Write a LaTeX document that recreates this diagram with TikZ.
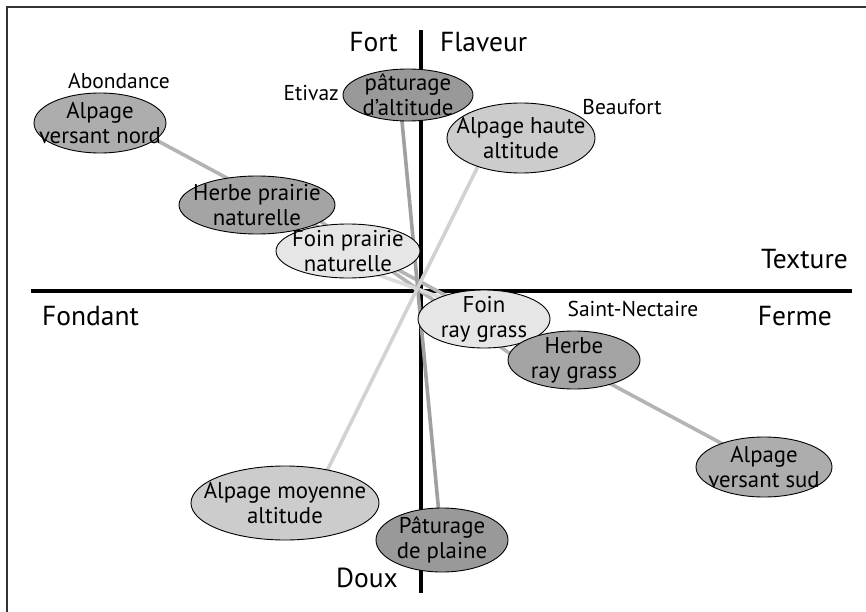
\documentclass[tikz,border=0pt]{standalone}
\usepackage{fontspec}
\setmainfont{PT Sans}
\usetikzlibrary{shapes.geometric}
\definecolor{fillpat}{HTML}{999999}
\definecolor{fillherbe}{HTML}{A4A4A4}
\definecolor{fillalp}{HTML}{ADADAD}
\definecolor{fillalt}{HTML}{CCCCCC}
\definecolor{fillfoin}{HTML}{E6E6E6}
\definecolor{linepat}{HTML}{A0A0A0}
\definecolor{linealp}{HTML}{B4B4B4}
\definecolor{lineherbe}{HTML}{B4B4B4}
\definecolor{linealt}{HTML}{D2D2D2}
\definecolor{linefoin}{HTML}{DCDCDC}
\tikzset{
  forage/.style={ellipse, draw=black, line width=0.9pt, inner sep=0pt},
  foragetext/.style={align=center, inner sep=0pt,
    font=\fontsize{22.8}{25}\selectfont},
  axislabel/.style={font=\fontsize{27.5}{30}\selectfont, inner sep=0pt},
  cheese/.style={font=\fontsize{21.5}{24}\selectfont, inner sep=0pt},
  axisline/.style={line width=3.4pt, black},
  pairline/.style={line width=3.6pt},
}
\begin{document}
\begin{tikzpicture}[x=1pt, y=-1pt]
\useasboundingbox (0,0) rectangle (866,612);
\clip (0,0) rectangle (866,612);

% outer frame
\draw[line width=2pt, black!80] (7,7) rectangle (880,630);

% axes
\coordinate (xL) at (31,291);
\coordinate (xR) at (852,291);
\coordinate (yT) at (421,30);
\coordinate (yB) at (421,593);
\draw[axisline] (xL) -- (xR);
\draw[axisline] (yT) -- (yB);

% end points of the pair lines
\coordinate (nordEnd) at (130,126);
\coordinate (sudEnd)  at (745,456);
\coordinate (herbePEnd) at (290,200);
\coordinate (herbeREnd) at (545,378);
\coordinate (foinPEnd) at (348,264);
\coordinate (foinREnd) at (484,313);
\coordinate (patAEnd) at (400,100);
\coordinate (patPEnd) at (440,525);
\coordinate (hauteEnd) at (490,142);
\coordinate (moyEnd)  at (313,499);

\draw[pairline, linealp]   (nordEnd) -- (sudEnd);
\draw[pairline, lineherbe] (herbePEnd) -- (herbeREnd);
\draw[pairline, linefoin]  (foinPEnd) -- (foinREnd);
\draw[pairline, linepat]   (patAEnd) -- (patPEnd);
\draw[pairline, linealt]   (hauteEnd) -- (moyEnd);

% forage ellipses, fixed size, text set on top
\node[forage, fill=fillalp, minimum width=132pt, minimum height=60pt,
  label={[foragetext]center:Alpage\\versant nord}] (nord) at (100,123) {};
\node[forage, fill=fillherbe, minimum width=156pt, minimum height=58pt,
  label={[foragetext]center:Herbe prairie\\naturelle}] (herbeP) at (257,205) {};
\node[forage, fill=fillfoin, minimum width=144pt, minimum height=54pt,
  label={[foragetext]center:Foin prairie\\naturelle}] (foinP) at (348,251) {};
\node[forage, fill=fillpat, minimum width=130pt, minimum height=52pt,
  label={[foragetext]center:pâturage\\d’altitude}] (patA) at (408,95) {};
\node[forage, fill=fillalt, minimum width=148pt, minimum height=70pt,
  label={[foragetext]center:Alpage haute\\altitude}] (haute) at (521,138) {};
\node[forage, fill=fillfoin, minimum width=132pt, minimum height=58pt,
  label={[foragetext]center:Foin\\ray grass}] (foinR) at (484,319) {};
\node[forage, fill=fillherbe, minimum width=132pt, minimum height=58pt,
  label={[foragetext]center:Herbe\\ray grass}] (herbeR) at (574,360) {};
\node[forage, fill=fillalp, minimum width=136pt, minimum height=60pt,
  label={[foragetext]center:Alpage\\versant sud}] (sud) at (764,467) {};
\node[forage, fill=fillalt, minimum width=188pt, minimum height=74pt,
  label={[foragetext]center:Alpage moyenne\\altitude}] (moy) at (285,503) {};
\node[forage, fill=fillpat, minimum width=132pt, minimum height=64pt,
  label={[foragetext]center:Pâturage\\de plaine}] (patP) at (442,540) {};

% axis labels
\node[axislabel, anchor=east] (fort) at (398,42) {Fort};
\node[axislabel, anchor=west] (flaveur) at (440,42) {Flaveur};
\node[axislabel, anchor=east] (texture) at (848,259) {Texture};
\node[axislabel, anchor=west] (fondant) at (42,316) {Fondant};
\node[axislabel, anchor=east] (ferme) at (832,316) {Ferme};
\node[axislabel] (doux) at (367,578) {Doux};

% cheese labels
\node[cheese] (abondance) at (119,81) {Abondance};
\node[cheese, anchor=east] (etivaz) at (339,93) {Etivaz};
\node[cheese] (beaufort) at (622,107) {Beaufort};
\node[cheese] (stnect) at (633,309) {Saint-Nectaire};
\end{tikzpicture}
\end{document}
